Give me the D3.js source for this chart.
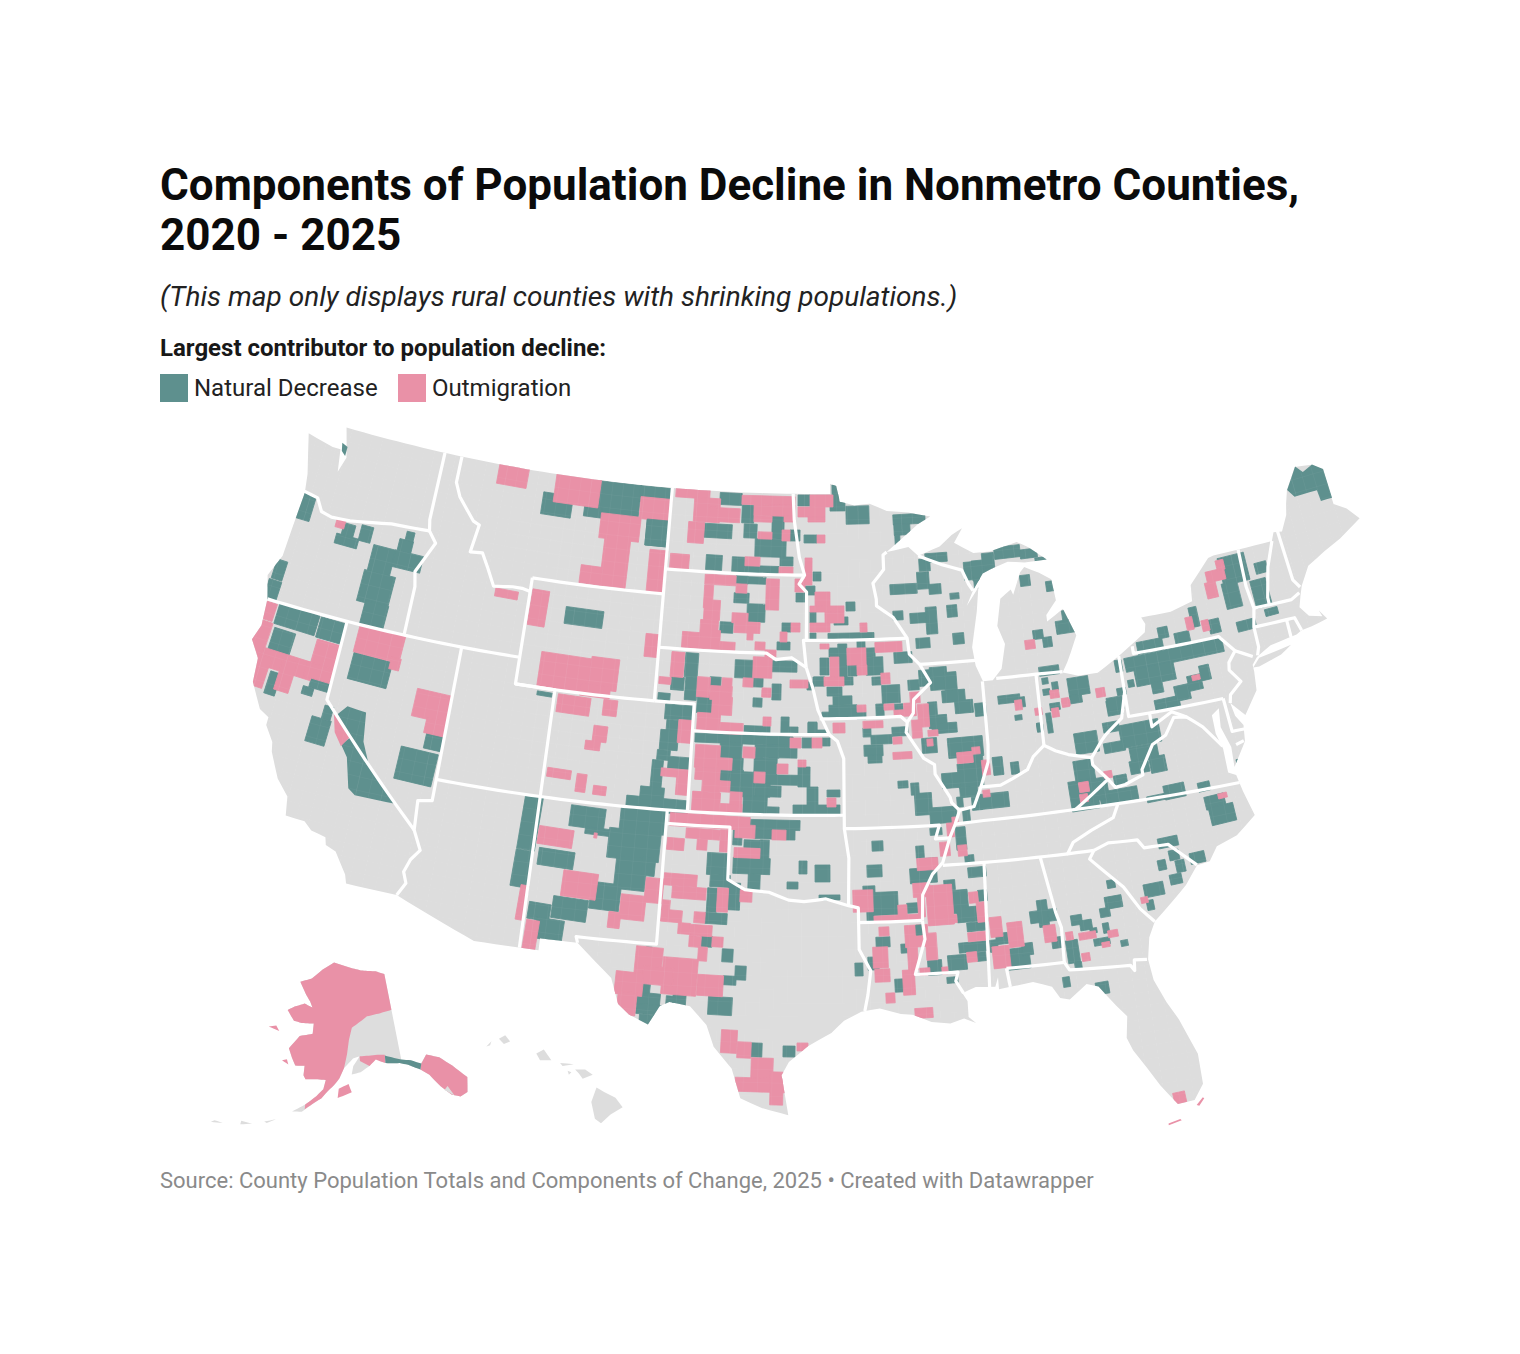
<!DOCTYPE html>
<html>
<head>
<meta charset="utf-8">
<script src="https://d3js.org/d3.v7.min.js"></script>
<style>
  body { margin: 0; background: #fff; }
  text { font-family: Roboto, sans-serif; }
</style>
</head>
<body>
<svg id="chart" width="1520" height="1354"></svg>
<script>
// text
var titleLines = ["Components of Population Decline in Nonmetro Counties,", "2020 - 2025"]
var subtitle = "(This map only displays rural counties with shrinking populations.)"
var legendTitle = "Largest contributor to population decline:"
var legendNames = ["Natural Decrease", "Outmigration"]
var source = "Source: County Population Totals and Components of Change, 2025 • Created with Datawrapper"

// outlines, lon/lat
var lower48 = [[-124.7,48.38],[-123.2,48.15],[-122.75,48.15],[-122.55,47.3],[-122.3,47.9],[-122.5,48.4],[-122.76,49],[-95.15,49],[-95.15,49.38],[-94.8,49.3],[-94.6,48.7],[-93.8,48.55],[-92.95,48.6],[-92,48.3],[-90.8,48.2],[-89.6,48],[-90.3,47.75],[-92.1,46.75],[-90.9,46.9],[-90.4,46.55],[-89.2,46.85],[-88.5,47.25],[-87.9,47.47],[-88.4,46.95],[-87.4,46.5],[-86.5,46.5],[-85,46.75],[-84.4,46.5],[-83.9,46.2],[-83.5,45.95],[-84.7,45.95],[-85.6,46.05],[-86.5,45.85],[-87,45.7],[-87.6,45.1],[-88,44.55],[-87.3,45.2],[-87.5,44.3],[-87.9,43],[-87.8,42.3],[-87.5,41.7],[-87,41.7],[-86.5,42.1],[-86.2,43],[-86.5,43.7],[-86.2,44.7],[-85.6,45],[-85.5,44.8],[-85,45.6],[-84.75,45.78],[-84,45.5],[-83.4,45.2],[-83.3,44.4],[-83.9,43.9],[-83.9,43.65],[-83,44.05],[-82.5,43],[-82.9,42.4],[-83.15,42.05],[-83.45,41.7],[-82.7,41.5],[-81.7,41.5],[-80.5,42],[-79,42.7],[-78.9,43],[-79.05,43.27],[-77.5,43.27],[-76.3,43.5],[-76.2,44.1],[-75,44.95],[-74.7,45],[-71.5,45],[-71.3,45.3],[-70.85,45.25],[-70.4,45.8],[-70.25,46.2],[-70,46.7],[-69.25,47.45],[-68.3,47.35],[-67.8,47.07],[-67.8,45.7],[-67.2,45.4],[-66.7,44.9],[-68,44.4],[-69,44.1],[-70,43.75],[-70.6,43.1],[-70.8,42.75],[-71,42.35],[-70.65,41.95],[-70,41.8],[-70.1,42.05],[-69.8,41.67],[-70.65,41.55],[-71.2,41.5],[-71.5,41.4],[-72.9,41.25],[-73.7,40.95],[-74,40.7],[-74,40.45],[-74.1,39.75],[-74.9,38.95],[-75.5,39.5],[-75.4,39],[-75.1,38.6],[-75.2,38],[-75.95,37.15],[-75.9,37.9],[-76.2,38.7],[-76.1,39.4],[-76.5,39.2],[-76.5,38.5],[-76.3,37.9],[-76.3,37],[-75.95,36.85],[-75.8,36.2],[-75.5,35.25],[-76.5,34.65],[-77.5,34.4],[-77.95,33.9],[-78.55,33.85],[-79.2,33.2],[-79.9,32.7],[-80.85,32.05],[-81.2,31.5],[-81.4,30.7],[-81.3,29.9],[-80.9,29],[-80.5,28.3],[-79.95,26.9],[-79.95,25.75],[-80.4,25.2],[-81.1,25.15],[-81.7,25.95],[-82.15,26.7],[-82.6,27.4],[-82.8,27.9],[-82.65,28.7],[-83.05,29.15],[-83.7,29.95],[-84.2,30.1],[-85,29.6],[-85.4,29.7],[-85.7,30.15],[-86.5,30.4],[-87.5,30.3],[-88,30.25],[-88,30.7],[-88.15,30.35],[-89,30.4],[-89.6,30.2],[-89.4,29.9],[-89.4,29.3],[-89.1,29.05],[-89.6,29.25],[-90.2,29.1],[-91,29.2],[-91.8,29.5],[-92.3,29.55],[-93.2,29.78],[-94,29.68],[-94.75,29.35],[-95.3,28.9],[-96.3,28.4],[-97.1,27.8],[-97.4,27.3],[-97.1,25.8],[-98.2,26.05],[-99.1,26.4],[-99.5,27.5],[-100.3,28.3],[-100.65,29.1],[-101.4,29.77],[-102.3,29.88],[-102.7,29.7],[-103.15,28.98],[-104,29.3],[-104.5,29.65],[-104.9,30.6],[-106,31.4],[-106.53,31.78],[-108.2,31.78],[-108.2,31.33],[-111.07,31.33],[-114.8,32.5],[-117.12,32.53],[-117.25,32.85],[-117.9,33.6],[-118.4,33.75],[-118.5,34.03],[-119.2,34.15],[-119.6,34.42],[-120.5,34.45],[-120.65,35.15],[-121.3,35.7],[-121.9,36.6],[-122,36.95],[-122.5,37.5],[-122.5,37.8],[-123,38],[-123.7,38.9],[-123.8,39.8],[-124.35,40.4],[-124.1,41],[-124.2,42],[-124.55,42.85],[-124.1,43.7],[-124.05,44.7],[-123.95,46.2],[-124.1,46.9],[-124.7,48.38]]
var longIsland = [[-74,40.6],[-73.6,40.9],[-72.6,41],[-71.9,41.08],[-72.5,40.82],[-73.7,40.58]]
var stateLines = [
  [[-124,46.25],[-123.2,46.15],[-122.8,45.7],[-122.2,45.6],[-121.2,45.65],[-120,45.8],[-119,45.93],[-116.92,46]],
  [[-117.03,49],[-117.04,46.42],[-116.92,46],[-116.46,45.6],[-117.2,44.4],[-117.03,43.85],[-117.03,42]],
  [[-124.2,42],[-111.05,42]],
  [[-116.05,49],[-116.05,48],[-115.7,47.5],[-114.7,46.7],[-114.35,46.6],[-114.55,45.55],[-113.9,45.6],[-113.45,45.05],[-113,44.45],[-112,44.55],[-111.5,44.55],[-111.05,44.48]],
  [[-111.05,45],[-104.05,45]],
  [[-111.05,45],[-111.05,41],[-104.05,41]],
  [[-104.05,49],[-104.05,41]],
  [[-104.05,45.94],[-96.56,45.94]],
  [[-104.05,43],[-98.5,43],[-98,42.77],[-97.2,42.85],[-96.45,42.49]],
  [[-104.05,41],[-102.05,41],[-102.05,37]],
  [[-102.05,40],[-95.3,40]],
  [[-111.05,41],[-109.05,41],[-109.05,31.33]],
  [[-114.04,42],[-114.04,36.2],[-114.7,36.1],[-114.6,35],[-114.15,34.3],[-114.5,33.9],[-114.7,33.4],[-114.5,33],[-114.8,32.5]],
  [[-114.04,37],[-94.62,37]],
  [[-120,42],[-120,39],[-114.6,35]],
  [[-103,37],[-103.04,32],[-106.62,32],[-106.53,31.78]],
  [[-103,36.5],[-100,36.5],[-100,34.56],[-99.2,34.2],[-98.1,34.13],[-97.2,33.85],[-96.5,33.8],[-95.5,33.9],[-94.48,33.64],[-94.04,33.55],[-94.04,32],[-93.55,31.2],[-93.7,30.3],[-93.85,29.7]],
  [[-95.3,40],[-94.9,39.75],[-94.6,39.1],[-94.62,36.5],[-90.15,36.5],[-90.37,36],[-89.7,36]],
  [[-94.62,36.5],[-94.43,35.4],[-94.48,33.64]],
  [[-94.04,33],[-91.17,33]],
  [[-91.17,33],[-91.1,32.3],[-91.6,31],[-89.73,31],[-89.85,30.67],[-89.55,30.2]],
  [[-95.77,40.58],[-91.73,40.6],[-91.42,40.38]],
  [[-96.45,42.49],[-96.1,41.7],[-95.85,40.9],[-95.3,40]],
  [[-96.45,42.49],[-96.6,43.5],[-96.45,43.5],[-96.45,45.3],[-96.85,45.6],[-96.56,45.94],[-96.85,46.6],[-97.15,48],[-97.23,49]],
  [[-96.45,43.5],[-91.22,43.5]],
  [[-92.1,46.75],[-92.3,46.65],[-92.3,46.1],[-92.9,45.6],[-92.75,45],[-92.75,44.75],[-91.9,44.3],[-91.22,43.5],[-91.15,42.9],[-90.65,42.5],[-90.15,41.8],[-91.05,41.2],[-91.1,40.7],[-91.42,40.38],[-91.5,40],[-90.7,39],[-90.2,38.75],[-90.2,38.4],[-89.55,37.5],[-89.5,37.3],[-89.15,37],[-89.4,36.5],[-89.7,36],[-90.1,35.1],[-90.6,34.7],[-91.1,33.95],[-91.17,33]],
  [[-90.65,42.5],[-87.8,42.5]],
  [[-90.4,46.55],[-89.1,46.15],[-88.1,45.9],[-87.8,45.35],[-87.6,45.1]],
  [[-87.53,41.7],[-87.53,39.35],[-87.6,38.7],[-88.05,37.8]],
  [[-89.15,37],[-88.45,37.1],[-88.05,37.8],[-87.1,37.8],[-86.5,38],[-85.75,38.27],[-85.4,38.73],[-84.82,39.1],[-84.3,38.85],[-83.7,38.65],[-82.6,38.42],[-82,39],[-81.75,39.2],[-80.87,39.7],[-80.52,40.64]],
  [[-84.82,39.1],[-84.8,41.76]],
  [[-86.82,41.76],[-84.8,41.76],[-83.45,41.73]],
  [[-80.52,42],[-80.52,39.72],[-75.79,39.72]],
  [[-79.76,42.27],[-79.76,42],[-75.35,42],[-74.7,41.36],[-75.13,40.98],[-75.2,40.7],[-74.75,40.2],[-75.4,39.8],[-75.5,39.5]],
  [[-74.7,41.36],[-73.9,41]],
  [[-75.79,39.72],[-75.7,38.46],[-75.05,38.45]],
  [[-75.65,37.95],[-75.25,38.03]],
  [[-82.6,38.42],[-82.6,38.15],[-81.97,37.54],[-83.68,36.6]],
  [[-81.97,37.54],[-81.68,37.2],[-81.2,37.25],[-80.3,37.5],[-80.3,37.7],[-79.6,38.55],[-78.9,38.8],[-78.35,39.4],[-77.72,39.32]],
  [[-79.48,39.72],[-79.48,39.2],[-78.4,39.62],[-77.72,39.32],[-77.05,38.85],[-76.3,38]],
  [[-75.87,36.55],[-81.68,36.59],[-83.68,36.6],[-88.05,36.55],[-89.4,36.5]],
  [[-90.1,35],[-84.32,35]],
  [[-81.68,36.59],[-82,36.1],[-83.1,35.75],[-84,35.4],[-84.32,35],[-83.1,35]],
  [[-83.1,35],[-82.4,35.2],[-81.05,35.15],[-80.8,34.82],[-79.68,34.8],[-78.55,33.86]],
  [[-83.1,35],[-83.35,34.7],[-82,33.5],[-81.4,32.6],[-80.85,32.05]],
  [[-88.2,35],[-88.4,30.3]],
  [[-85.6,35],[-85.18,32.9],[-85,32.3],[-85.05,31]],
  [[-87.6,31],[-85.05,31]],
  [[-87.6,31],[-87.5,30.3]],
  [[-85.05,31],[-84.86,30.7],[-82.2,30.57],[-82.05,30.36],[-82,30.75],[-81.45,30.7]],
  [[-71.5,45],[-72.05,44.1],[-72.45,43],[-72.46,42.73]],
  [[-71.08,45.3],[-70.97,43.4],[-70.7,43.07]],
  [[-73.27,42.74],[-71.3,42.7],[-70.82,42.87]],
  [[-73.35,45],[-73.4,43.6],[-73.27,42.74],[-73.5,42.05],[-73.5,41.3],[-73.65,41]],
  [[-73.5,42.05],[-71.38,42.02],[-71.2,41.5]],
  [[-71.8,42.02],[-71.8,41.35]]
]

var alaskaLand = [
  [[-141,69.65],[-143.5,70.1],[-148,70.4],[-152,70.85],[-156.5,71.35],[-160,70.5],[-163,69.4],[-166.2,68.85],[-164,67.6],[-162.6,66.9],[-161.8,66.3],[-164,66.6],[-166.5,66.1],[-168.1,65.6],[-166,64.6],[-164,64.5],[-161,64.6],[-161,63.5],[-164,63.1],[-165.5,62],[-166,61.6],[-165,60.7],[-164,59.9],[-162,60],[-162,59],[-161.5,58.6],[-159,58.7],[-157.3,58.7],[-157.7,57.7],[-159,56.9],[-161,55.9],[-163.3,55],[-161.5,55.1],[-159.5,56.1],[-158,56.7],[-156.8,57.5],[-155.5,58.2],[-154.5,58.9],[-153.5,60],[-151.5,61],[-150,61.2],[-151.5,60.2],[-151.9,59.3],[-150,59.5],[-148,60.1],[-146.5,60.8],[-144.5,60.2],[-141.5,59.95],[-139.8,59.6],[-137.5,58.8],[-136,58],[-134.5,56.5],[-133,55.3],[-131.5,54.8],[-130,55],[-129,56.5],[-131,58.2],[-133,59.5],[-135.5,60.2],[-137.5,59.2],[-139,60],[-141,60.3]],
  [[-168,53.4],[-166,53.9],[-167.5,53.3]],
  [[-172,52.5],[-170,52.9],[-172,52.9]],
  [[-177,51.8],[-175,52.1],[-176.5,52.1]]
]
var alaskaOutmigration = [
  [[-141,69.65],[-143.5,70.1],[-148,70.4],[-152,70.85],[-156.5,71.35],[-160,70.5],[-163,69.4],[-166.2,68.85],[-164,67.6],[-162.6,66.9],[-161.8,66.3],[-164,66.6],[-166.5,66.1],[-168.1,65.6],[-166,64.6],[-164,64.5],[-161,64.6],[-161,63.5],[-164,63.1],[-165.5,62],[-166,61.6],[-165,60.7],[-164,59.9],[-162,60],[-162,59],[-161.5,58.6],[-159,58.7],[-157.3,58.7],[-157.7,57.7],[-159,56.9],[-161,55.9],[-161,55.4],[-159.5,56.1],[-158,56.7],[-156.8,57.5],[-155.5,58.2],[-154.5,58.9],[-153.5,60],[-152.8,61.5],[-152.3,63],[-151.5,64.3],[-147.5,65.4],[-141,65.7]],
  [[-171.7,63.4],[-169,63.2],[-170,63.7]],
  [[-167,60.2],[-165.5,59.9],[-166,60.4]],
  [[-154.8,56.8],[-152,57.4],[-152.6,58.3],[-154.6,57.8]],
  [[-150,61.2],[-146,61.2],[-144.4,61.1],[-144.5,60.2],[-146.5,60.7],[-148,60.1],[-150,60.7]],
  [[-137.5,58.8],[-136,58],[-134.5,56.5],[-133,55.3],[-131.5,54.8],[-130,55],[-129,56.5],[-131,58.2],[-133,59.5],[-135.5,60.2],[-137,59.4]]
]
var alaskaNatural = [
  [[-144.5,60.2],[-141.5,59.95],[-139.8,59.6],[-137.5,58.8],[-137,59.4],[-139,60],[-141,60.3],[-144.4,61]]
]
var alaskaPanhandleIslands = [[[-134,56],[-132.5,55.1],[-133.2,56.3]]]
var hawaiiLand = [
  [[-155.85,20.27],[-155.55,20.1],[-155.1,19.88],[-154.82,19.52],[-155.3,19.25],[-155.68,18.93],[-155.92,19.1],[-156.06,19.73]],
  [[-156.7,20.95],[-156.3,20.95],[-156,20.75],[-156.4,20.6],[-156.55,20.8]],
  [[-157.3,21.2],[-156.75,21.15],[-157.2,21.08]],
  [[-157,20.9],[-156.85,20.85],[-156.95,20.75]],
  [[-158.25,21.55],[-157.95,21.7],[-157.65,21.3],[-158.1,21.3]],
  [[-159.75,22.1],[-159.5,22.23],[-159.3,22],[-159.55,21.9]],
  [[-160.25,21.8],[-160.05,22],[-160.1,21.85]]
]
// counties with shapes that need real borders
var naturalShapes = [
  [[-118.43,37.89],[-115.65,35.81],[-117.63,35.8],[-118,36],[-118.4,37.1],[-118.8,37.5]],
  [[-69.99,46.7],[-69.22,47.46],[-68.9,47.18],[-68.3,47.36],[-67.79,47.07],[-67.78,45.94],[-68.4,45.95],[-68.44,46.38],[-69.7,46.38]],
  [[-118.95,38.95],[-118,38.88],[-117.8,37.8],[-117.3,37],[-119.4,38.5]],
  [[-122.75,48.4],[-122.4,48.3],[-122.4,47.95],[-122.65,48.1]]
]
var outmigrationShapes = [
  [[-119.5,38.55],[-118.45,37.9],[-118.8,37.45],[-119.25,37.9]],
  [[-80.25,24.95],[-80,25.2],[-80.05,25.25],[-80.35,25]],
  [[-81.6,24.4],[-81.05,24.52],[-81.1,24.57],[-81.6,24.47]]
]

// county cells, [col from, col to, row from, row to]
var naturalWest = [[29.8,31.3,49.4,52],[27.4,28.5,56,58],[26.6,27.9,58,60],[34.2,35.4,52.4,54],[33.5,35.8,53.6,54.6],[36,37.2,52.6,54.2],[37,39.3,54.7,57.5],[40.6,41.4,53.2,54.2],[39.8,41.2,54,55.5],[39.3,42.2,55.3,57],[36,39.2,57.3,60.5],[36.2,38.6,60.3,62.8],[27.6,31.8,60.9,63],[31.8,34.4,62,64.1],[27,29.2,63,65.8],[26.7,27.8,67.2,69.5],[31,33,67.8,69],[30.2,31.3,68.7,69.5],[35,39,65.7,68.4],[30.8,32.8,71.8,74.4],[32.3,33.2,70.6,72],[42.5,44.2,73.3,75],[39.7,43.5,75,78.3],[52.1,53.9,79.6,85],[51.3,53,85,88.7],[54.2,57.2,49.4,51.6],[59.8,64,48.3,51.8],[58.4,60.2,50.6,51.7],[64,67.2,48.7,50.3],[64.6,66.8,52,54.6],[56.5,60.3,60.9,62.6],[53.7,55.2,69.2,69.6]]
var outmigrationWest = [[33.6,34.5,51.9,52.8],[26.2,27.5,60.2,62],[25.2,26.8,62,65.5],[31.3,33.8,64.2,67],[26,31.4,65.5,67.3],[25.3,26.7,65.5,68.7],[27.8,29.3,66,69.2],[30.5,33.2,66.5,68],[35.6,40.3,63,65.8],[39,40,65.8,67],[41.4,45,69.2,72],[42.5,44.6,72,73.5],[51.8,52.6,88.5,92],[49.8,52.8,46.6,48.6],[49.5,51.8,59,59.8],[53,54.7,59,62.6],[55.5,60,47.5,50.5],[64,67.1,49.8,52],[60,64,51.5,54],[60.2,62.8,53.8,58.7],[58,60.2,56.6,58.4],[64.8,66.6,55,59.2],[64.5,65.9,63.4,65.7],[53.9,59,65.5,69],[59,61.8,65.8,69],[58,61,68.5,69.7]]
var naturalDakotas = [[72,74.2,49.3,50.5],[74.2,75.4,50.5,52.3],[70.4,73.2,52.4,53.8],[74.4,75.7,52.4,53.8],[77.2,78.4,51.6,53.9],[79,80,53,54.1],[75.5,78.6,53.9,55.7],[70.6,72.2,55.5,57],[73.2,74.5,55.7,57.3],[74.5,77.9,56.6,57.4],[78,79.3,55.7,56.6],[79.8,81,49.5,50.6],[73.6,74.8,57.6,58.4],[74.8,76.6,57.7,58.4],[73.4,74.9,59.3,60.3],[74.7,76.5,60.4,62.2],[72,73.3,62.2,63.3],[78.2,79.1,62.3,63.2],[77.7,79,64.2,65],[79.6,80.7,59.3,60.2],[81.3,82.1,57.2,58.1],[80.5,81.5,58.6,59.5],[73.5,75.3,66,67.8],[77.2,79.7,66.1,67.2],[75.3,76.3,67.8,68.7],[77.2,78.1,68.4,70],[80.7,81.4,68.2,69],[81.4,82.5,67.7,68.6]]
var outmigrationDakotas = [[67.6,71,48.9,49.8],[69.4,72,49.8,52.2],[71,74,50.8,52.2],[74.2,79.5,49.6,50.5],[75.4,79.5,50.5,51.6],[75.4,77.2,51.6,52.2],[78.4,79.5,51.6,52.2],[68.8,70.4,52.2,54.3],[75.8,77.2,53.2,53.9],[78.2,79,53,54.1],[67,68.9,55.4,57],[74.5,76,55.7,56.6],[77.9,79.3,56.7,57.4],[81,83.3,49.5,50.7],[79.8,82.5,50.7,51.7],[80.8,82.5,51.7,52.2],[70.5,73.6,57.5,58.5],[70.4,71.3,58.5,60.8],[70.4,72,60,62],[70,71.8,62,64],[68.2,70,63.2,64.8],[70,72,63,64.9],[72,73.5,64.2,65],[73.6,74.7,58.4,59.3],[76.6,77.9,57.9,61],[73.2,74.8,61.3,62.3],[73.4,76,62.2,63.3],[74.7,75.3,63.3,64],[75.5,76.5,64.2,65],[76.5,77.6,65,65.7],[79.1,80,62.3,63.2],[78,78.7,63.2,64.2],[79.5,80.5,57.9,59.2],[80.5,81.2,55.8,58.5],[75.3,77.2,65.7,67.8],[74.3,75.3,67.8,68.7],[76.2,77.1,68.8,69.7],[79,80.8,68,68.8],[81.7,82.5,53.5,54.3]]
var naturalPlains = [[68.5,69.8,65.3,67.7],[67.1,68.4,67.7,69],[68.5,69.7,67.7,70],[65.8,67,69.3,70],[71,72.1,67.7,68.6],[69.7,71.2,69.5,71.3],[75.3,76.2,69.8,70.7],[74.4,77,72.6,73.4],[78.1,78.9,71.7,73.3],[78.9,79.8,72.7,73.4],[80.8,81.7,72.2,73.3],[81.7,82.7,73,73.5],[66.5,69.3,70.5,72],[66.6,67.8,72,74.2],[66,67.8,73,75],[65.7,67,75,76],[66.8,69,75.7,76.9],[65.1,66.2,76,79.3],[62.6,68.8,79.8,81.2],[64,66.4,78.7,80],[69.5,79.3,73.5,74.4],[80.2,81.2,73.8,74.8],[82.2,83,73.8,74.6],[72,74.2,74.2,75.8],[75.5,77.9,74.5,75.8],[77.9,79.7,74.5,75.8],[70.3,71.7,75.7,76.8],[73.2,74.3,75.8,77],[75.4,77.7,75.8,77.5],[79.8,81,76.7,78.7],[73,74.3,77,79.2],[72,73,77,78.1],[74.2,75.5,77.2,79.7],[76.5,79.8,77.5,78.5],[75.5,77,78.3,79.7],[76.7,78.1,78.6,79.7],[74.3,76.7,79.6,81.4],[76.7,77.9,80.7,81.5],[80.7,81.8,78.7,80.5],[79.3,84,80.5,81.6],[82.7,84,79,79.7],[57,60.5,80.7,82.8],[58.5,61,82.8,83.5],[53.8,57.4,85,86.7],[62,66.5,81,83.3],[60.8,66,83,86],[61.5,64.6,85.7,89],[64.2,65.5,85.7,87.6],[59,62,88.3,91],[55.2,58.7,89.8,92],[52.8,55,90.3,92],[53.5,56.3,91.9,94],[75,80,82,83],[75.4,78.7,83,83.9],[78.6,79.5,83,84],[73.3,74.2,83,84.5],[74.4,76,84,84.8],[76,76.9,84,86.2],[73.3,77,85.8,87.4],[74.8,76,87.4,89.1],[79.9,80.7,86.1,87.4],[81.5,83,86.5,88.2],[78.7,79.8,88.2,88.9],[81.9,84,89.5,90],[70.7,72.9,85.3,87.5],[71,73,87.5,88.7],[70.7,71.7,88.8,91.2],[72.8,74,88.3,91],[70.5,72.7,91.3,92.4],[70.1,71.2,93.6,94.7],[72.2,73.3,94.9,96.2],[73.5,74.6,96.6,98],[72.3,73.6,97.6,98.5],[64,65,98.3,99.3],[63.6,66,99.3,100.5],[63.6,67,100.5,101.5],[63.9,65.8,101.5,102.6],[67.3,68.6,98.6,100.7],[66.6,67.4,99.6,100.5],[64.6,65.2,94.7,95.5],[70.8,73.2,99.7,101.5],[75.1,76.2,104.3,105.7],[78.3,79.5,104.6,105.7]]
var outmigrationPlains = [[67.1,68.4,65.2,67.7],[65.9,67.1,67.7,68.4],[69.7,71,67.7,69.7],[71,73.2,68.6,70],[72.2,73.2,67.8,68.7],[71.2,73.2,69.7,71.5],[69.7,72,71.3,73.2],[72,74.3,72.3,73.4],[76.2,77,69,69.7],[76.3,77.1,71.7,72.6],[67.8,69.3,72,74.3],[66.1,69,76.9,77.7],[67.6,68.8,77.7,79.5],[79,80.1,73.8,74.8],[81.2,82.2,73.8,74.8],[69.5,72,74.5,76.8],[74.3,75.5,74.7,75.8],[71.8,73.2,75.8,77],[77.7,78.8,76.4,77.4],[79.8,80.6,76,76.7],[69.5,72,76.8,78],[70.2,72,78,79.2],[72,73,78.1,79.2],[75.4,76.5,77.2,78.3],[69.2,72,79.2,81.2],[72,74.2,80.4,81.4],[73,74.2,79.2,80.5],[82.7,83.6,79.8,80.7],[55.7,59,69.6,71.4],[60.3,61.7,70,71.6],[59.3,60.7,72.6,74.2],[58.5,60,74.1,75],[54.7,57.1,76.9,77.8],[57.6,58.6,77.4,79.2],[59.3,60.6,78.6,79.5],[53.8,57.3,82.8,84.6],[59.4,59.7,83.3,83.8],[64.5,66.3,87.8,90.3],[62,64.5,89.5,92],[60.8,62,91.2,92.8],[56.2,59.7,87.2,89.8],[52.4,53.7,92,95.2],[67,75,81.5,82.8],[73.5,75.5,82.5,83.8],[77.2,78.6,83,84],[73.4,76,84.8,85.8],[68.6,72,82.9,83.9],[69.7,70.7,83.9,85],[66.7,68.4,83.8,85],[72,72.9,83,85.2],[66.4,69.7,87.4,88.6],[67.2,70.6,88.7,89.9],[71.7,72.8,88.8,91.2],[74,75.2,89,90.2],[66.2,67,90,91],[66.1,68.2,91,92.2],[69.4,70.5,91.2,92.3],[67.8,69,92.3,93.4],[69,71.2,92.5,93.6],[68.9,70.1,93.6,94.7],[71.2,72.3,93.7,94.7],[69.8,70.7,94.7,96.1],[63.5,66.2,94.7,97.8],[66.2,69.7,95.8,99.5],[69.7,72.3,97.5,99.6],[61.5,64.3,97.2,99.5],[61.7,63.6,99.2,101.5],[64.3,67.3,96.7,98.5],[72.1,73.7,103,105.3],[73.7,75.1,104.2,105.8],[75.1,77.3,105.8,108],[73.5,78.5,107.8,109.2],[77,78.3,107.2,110.5],[79.7,80.8,104.3,105.1]]
var naturalMidwest = [[83.2,83.9,48.5,50.2],[83,84.5,50.2,51.1],[84.6,86.9,50.6,52.4],[89.3,92.5,51.4,52.4],[89.4,91,52.4,53.5],[89.5,90,53.5,54.5],[80.4,81.7,53.5,54.3],[81,81.6,61.2,62.3],[83.4,84.8,61.7,62.5],[84.6,85.5,60.2,61.1],[81,81.6,63.3,64],[82.8,87.4,63.3,64],[89,91.7,58.4,59.4],[91.7,92.9,57.2,58.9],[92.9,94.1,58.4,59.4],[91.9,93,55.9,57.1],[92.5,94.7,55.3,56.2],[95,95.9,59.3,59.9],[94.7,95.7,60.5,61.7],[91,92.7,61.3,62.3],[92.6,93.7,60.7,63.4],[89.3,90.3,61.1,62],[91.6,93,63.8,64.8],[95.3,96.4,63.3,64.4],[96.4,97.4,56.2,58],[97.2,99.3,56,58],[98.2,99.4,55.3,56.8],[99.4,102,54.6,55.8],[102,103.7,54.9,55.8],[103.5,105,55.7,56.2],[97.4,98,57.8,58.8],[102,103,57.5,58.6],[104.6,105.6,58.1,59.1],[105.6,107.7,62,63.3],[106.2,107.3,61,62],[103.3,104.3,63,63.9],[104.3,105.2,63.7,64.7],[103.9,105.9,66.6,67.5],[82.9,83.8,64.8,65.7],[83.8,84.7,64.4,67.7],[82,82.9,65.8,67.5],[84.8,85.7,66.5,67.6],[85.7,86.5,64,64.8],[86.6,87.5,64.8,65.7],[86.6,88.3,65.7,67.5],[89.4,91.2,65.2,66.3],[87.2,88.1,67.7,68.5],[84.4,85.3,67.7,68.5],[81.3,82.4,67.7,68.6],[82.7,84.2,68.7,69.6],[88.2,90,68.5,70.3],[83.3,85.2,69.6,70.5],[82.9,85.7,70.5,71.8],[82.2,84.8,71.2,71.9],[85.7,86.6,71.2,71.9],[87.6,88.4,70.4,71.7],[89.4,90.3,70.4,71],[90.8,91.9,68,69],[91.9,93.2,67,68.6],[93,94.7,66.7,69],[94.5,95.7,67.2,70],[94.2,96.5,69,70.2],[95.5,97.3,70,71.3],[97.5,98.6,70.3,71.6],[92.8,93.7,70.2,71.5],[92.9,94.7,71.5,72.8],[80.8,81.7,72.3,73.3],[86.3,87.1,72.8,73.7],[87.1,89.2,73.5,74.4],[89.2,90.8,72.7,73.6],[86.4,88.3,74.5,75.6],[86.8,88.2,75.5,76.3],[92.2,93.7,73.8,75.3],[93.2,95.7,72.3,73.3],[94.8,98.3,73.7,75.7],[97.3,98.3,75.4,76.9],[95.8,98.3,76.3,78.7],[94.2,96,77.3,78.8],[96,97.8,78.7,79.7],[95.7,96.3,79.7,80.7],[97.2,98.2,79.7,81],[99.3,100.3,75.7,77.5],[101.1,101.9,76.2,77.4],[103.7,104.3,72.3,73.1],[98,100.9,79.3,80.8],[96.3,97,80.8,82.3],[91.5,93.2,79.3,81.5],[93,95.7,80.7,82.3],[89.8,90.8,78.1,78.8],[91.1,91.9,78.3,79.5],[93,94.2,82.8,83.5],[95.6,96.6,82.7,85],[96.5,97.4,85.5,86.4]]
var outmigrationMidwest = [[81.5,83,59.2,60.7],[81,84.4,60.6,61.2],[82.5,84.4,61.2,62.3],[81,83,62.3,63.2],[86,86.7,62.3,63.2],[102.5,103.5,64,64.9],[82,82.9,64.4,64.9],[83,83.9,65.7,67.7],[84.7,86.6,64.8,66.5],[85.7,86.7,66.5,67.5],[87.5,90.2,64.2,65.2],[88.1,89,67.3,68.4],[82.4,84.4,67.7,68.6],[85.7,86.6,70.5,71.2],[88.4,89.4,70.4,71],[89.4,90.4,71,71.6],[91,92,69.2,70.3],[90.4,91.6,70.3,71.6],[91.8,92.9,70.4,72.7],[83.3,84.5,72.3,73.3],[86.3,88.3,72.1,72.8],[89.3,90.2,73.7,74.4],[89.3,91.2,75.2,75.9],[91.2,92.2,72,73.8],[92.8,93.8,73,73.6],[92.7,93.3,73.9,74.6],[95.7,97.3,75.2,76.3],[97.2,98,74.7,75.4],[98.2,99,76,77.5],[98.3,99,79,79.7],[95.2,95.8,81.7,82.3],[94.7,95.4,82.3,83.7],[94,95,84.2,85.6],[95.8,96.7,84.5,85.6]]
var naturalSouth = [[87.2,88.3,84.1,85.1],[86.7,88.2,86.5,87.7],[91.6,92.4,84.6,85.8],[92.5,93.7,85.8,86.4],[91,93.7,86.8,88.3],[86.3,87.5,88.6,89.6],[87.3,89.8,89.2,91.5],[86.7,87.4,91.2,92.2],[90.7,91.8,90.3,91.3],[94.4,95.5,88,89],[95,96.8,89,91.3],[97.8,98.7,89,90.1],[95.7,97.7,90.7,92.2],[96.7,98.6,92.2,93.1],[95.9,98.6,94.2,95.2],[94.8,96.7,95.5,97],[97.7,98.6,95.2,96.1],[96.8,98.6,86.7,87.7],[92.8,94.2,96,97.5],[94.7,95.8,97.7,98.3],[87.6,89,93.7,94.7],[86.8,87.9,95.7,97],[85.5,86.3,96.3,97.6],[90.1,90.9,94.4,95.3],[89.5,90.5,97.9,99.2],[103,105.7,91,92.2],[103.8,104.8,90,92.7],[105.2,106.3,93.7,94.8],[99.6,100.8,93.3,94.4],[99,99.8,94,95.2],[100.8,103,94.8,96.9],[102.2,103.3,94.3,95.5],[110.7,111.5,88,88.8],[110.5,112.2,89.6,90.8],[110,111,90.8,91.7],[107.1,108.2,91.5,92.5],[108,109.2,92,93],[109,109.7,92.8,93.3],[110.3,110.9,92.3,93.3],[106.7,107.9,94,96.3],[107.5,108.2,96.2,97],[109.4,111,93.8,94.5],[112.1,112.8,94,94.6],[106.3,107,97.7,98.7],[109.6,110.9,98.2,99.4],[115.8,117.8,83.7,84.7],[116.9,117.9,85,86],[117.6,118.5,86,87.2],[119,120.5,85.2,86.3],[115.8,116.6,86,87],[117,118.2,87.4,88.4],[114.4,116.4,88.3,89.6],[114.7,115.4,90,91]]
var outmigrationSouth = [[91.7,93.8,85.8,87],[91.3,93,88.3,89.7],[85.3,87.3,89,91.2],[87.4,92.3,91.5,92.2],[89.8,90.7,90.5,91.7],[91.8,92.5,89.7,91.7],[92.7,95.3,88.5,92.5],[94.5,95.7,91.5,92.3],[96.9,97.8,89.2,90.3],[97.7,98.7,90.2,92.2],[96.8,98.6,93.2,94.1],[96.7,97.7,95.2,96.2],[92,93,96.8,97.5],[94.2,94.8,96.7,97.4],[92.6,93.7,93.3,96],[87.9,88.9,92.7,93.6],[87.3,88.8,94.7,96.8],[87.5,89,96.9,98.2],[90.5,92.8,92.5,94.7],[90.8,91.8,94.7,97],[90.3,91.5,97,99.5],[88.6,89.5,99.3,100.3],[91.5,93.3,100.8,101.8],[104.4,105.6,92.5,94.2],[99,100.2,91.7,93.7],[100.8,102.3,92.2,94.7],[99.3,101,94.6,96.8],[110.8,111.8,93,93.7],[107.9,109.6,93.2,93.9],[106.6,107.3,93.2,94],[108.2,109,95.3,96.1],[110.2,111,94.2,94.7],[114.1,114.8,89.7,90.3],[117.4,118.6,109.2,110.6]]
var naturalEast = [[120.5,122.5,79.5,80.8],[121,123.5,80.5,82.3],[119.8,121,78.2,79.1],[114.7,116.6,79.5,80.1],[116.4,118.5,78.4,79.8],[123.7,124.2,75.9,76.8],[110,113.8,78.9,80.2],[112,116,72.2,74.5],[113,115.8,74.5,76],[113,114.9,76,77.3],[110.4,112.5,74.2,75.2],[111.4,112.7,77.5,78.5],[115,116.6,75.6,77.2],[107.5,109.5,76,79],[107,109.8,78,81],[109,110.8,77.8,80],[107.5,109.8,73.2,75.3],[110.3,111.9,72.2,73.2],[110.7,112.2,70,71.5],[104.7,105.2,71.3,73.3],[103.7,104.3,72.3,73.2],[101.5,102.2,71.5,72],[99.8,102,69.5,70.3],[101.8,102.5,69.7,70.7],[104.2,104.8,67.8,68.4],[104.3,105,68.9,69.5],[105.2,105.8,68.2,69],[106.8,108.9,67.7,69.5],[107,108.2,69.5,70.3],[105,106,70.3,71],[112.4,122.4,64.8,66.2],[113.5,117.5,66.5,68.3],[115.2,116.3,68.2,69.3],[111.5,112.2,66,67.2],[112.8,113.4,68,68.7],[111.7,112.6,68.8,69.5],[110.7,112.3,69.7,71],[115.5,118,69.8,71],[117.5,119,68.5,70],[118.8,120.2,67.5,69],[120,121,66.5,68],[113.7,116.3,64,65.2],[115.8,116.8,62.7,63.8],[117.5,119,63.2,64.5],[119,119.8,60.7,62.7],[120.9,122,61.9,63.3],[123.7,125.6,62,63],[122,124.7,55.5,58.3],[122.4,124,58.2,60.8],[125.5,126.7,56.2,57.3],[125.3,126.9,57.9,60.7],[126.5,127.8,60.8,61.5]]
var outmigrationEast = [[121.8,122.7,79.3,79.8],[107.9,108.9,78.2,79.2],[108,108.8,79.4,80.2],[110.4,111.2,77.1,77.8],[105.2,105.9,70.8,71.7],[106.2,107,70,70.6],[101.5,102.2,70,71],[103.5,104.2,70.8,71.5],[105,105.9,69,69.8],[106.2,106.9,69.8,70.7],[109.6,110.5,68.8,69.7],[119.2,120,67.5,68],[118.6,119.3,61.7,63],[120.2,120.9,62,63.1],[120.6,122.5,57,58.1],[121.6,122.4,56,57],[120.6,121.7,58.2,59.8]]
var naturalOnTop = [[91.6,92.2,92.5,93.5],[64.6,66.8,52,54.6]]

var legendColors = ["#5e908e", "#e991a7"]
var landColor = "#dddddd"

var width = 1520, height = 1354
var svg = d3.select("#chart")

// titles
svg.selectAll(".title").data(titleLines).join("text").attr("class", "title")
  .attr("x", 160).attr("y", (d, i) => 200 + i * 50)
  .attr("font-size", 44).attr("font-weight", 700).attr("fill", "#0b0b0b").text(d => d)
svg.append("text").attr("x", 160).attr("y", 306).attr("font-size", 28)
  .attr("font-style", "italic").attr("font-weight", 400).attr("fill", "#222").text(subtitle)
svg.append("text").attr("x", 160).attr("y", 356).attr("font-size", 24)
  .attr("font-weight", 700).attr("fill", "#181818").text(legendTitle)

var legendX = d3.scaleOrdinal().domain(legendNames).range([160, 398])
var legend = svg.selectAll(".legend").data(legendNames).join("g").attr("class", "legend")
  .attr("transform", d => `translate(${legendX(d)},374)`)
legend.append("rect").attr("width", 28).attr("height", 28).attr("fill", (d, i) => legendColors[i])
legend.append("text").attr("x", 34).attr("y", 22).attr("font-size", 24).attr("fill", "#222").text(d => d)

svg.append("text").attr("x", 160).attr("y", 1188).attr("font-size", 22).attr("fill", "#8a8a8a").text(source)

// projections
var mainland = d3.geoAlbers().rotate([96, 0]).center([0, 38.5]).parallels([29.5, 45.5]).scale(1530).translate([815, 775]).precision(0.3)
var alaska = d3.geoConicEqualArea().rotate([154, 0]).center([-2, 58.5]).parallels([55, 65]).scale(535).translate([332, 1082]).precision(0.3)
var hawaii = d3.geoConicEqualArea().rotate([157, 0]).center([-3, 19.9]).parallels([8, 18]).scale(1530).translate([492, 1097]).precision(0.3)

var mainPath = d3.geoPath(mainland), akPath = d3.geoPath(alaska), hiPath = d3.geoPath(hawaii)

// long edges have to follow the parallels, not great circles
function dense(line) {
  var out = []
  line.forEach((p, i) => {
    if (i > 0) {
      var q = line[i - 1], n = Math.ceil(Math.abs(p[0] - q[0]) / 0.5)
      for (var k = 1; k < n; k++) out.push([q[0] + (p[0] - q[0]) * k / n, q[1] + (p[1] - q[1]) * k / n])
    }
    out.push(p)
  })
  return out
}
function poly(ring) {
  var r = dense(ring)
  if (r[0][0] != r[r.length - 1][0] || r[0][1] != r[r.length - 1][1]) r.push(r[0])
  var g = {type: "Polygon", coordinates: [r]}
  if (d3.geoArea(g) > 2 * Math.PI) g.coordinates[0] = r.slice().reverse()
  return g
}

svg.append("clipPath").attr("id", "land").append("path")
  .attr("d", mainPath(poly(lower48)) + mainPath(poly(longIsland)))

var map = svg.append("g")
map.append("path").attr("d", mainPath(poly(lower48)) + mainPath(poly(longIsland))).attr("fill", landColor)

var x = d3.scaleLinear().domain([0, 152]).range([0, width])
var y = d3.scaleLinear().domain([0, 135.4]).range([0, height])

// parallels lean with the distance from the central meridian
function tilt(d) {
  var cx = x((d[0] + d[1]) / 2), cy = y((d[2] + d[3]) / 2)
  var a = Math.atan((815 - cx) / 1670) * 180 / Math.PI
  return `rotate(${a},${cx},${cy})`
}
function drawCells(cells, color) {
  var g = map.append("g").attr("clip-path", "url(#land)")
  g.selectAll("rect").data(cells).join("rect")
    .attr("x", d => x(d[0])).attr("y", d => y(d[2]))
    .attr("width", d => x(d[1]) - x(d[0])).attr("height", d => y(d[3]) - y(d[2]))
    .attr("transform", tilt)
    .attr("fill", color).attr("stroke", color).attr("stroke-width", 0.8)
}
drawCells([...naturalWest, ...naturalDakotas, ...naturalPlains, ...naturalMidwest, ...naturalSouth, ...naturalEast], legendColors[0])
drawCells([...outmigrationWest, ...outmigrationDakotas, ...outmigrationPlains, ...outmigrationMidwest, ...outmigrationSouth, ...outmigrationEast], legendColors[1])
drawCells(naturalOnTop, legendColors[0])

map.append("g").selectAll("path").data(naturalShapes).join("path").attr("d", d => mainPath(poly(d))).attr("fill", legendColors[0])
map.append("g").selectAll("path").data(outmigrationShapes).join("path").attr("d", d => mainPath(poly(d))).attr("fill", legendColors[1])

// county grid over the land, the real county lines are only faintly visible
map.append("path").attr("clip-path", "url(#land)")
  .attr("d", mainPath(d3.geoGraticule().step([0.6, 0.5]).extent([[-125, 25], [-66, 50]])()))
  .attr("fill", "none").attr("stroke", "#fff").attr("stroke-opacity", 0.06).attr("stroke-width", 0.7)

// state borders
map.append("g").selectAll("path").data(stateLines).join("path")
  .attr("d", d => mainPath({type: "LineString", coordinates: dense(d)}))
  .attr("fill", "none").attr("stroke", "#fff").attr("stroke-width", 3.2).attr("stroke-linejoin", "round")

// alaska and hawaii
map.append("g").selectAll("path").data(alaskaLand).join("path").attr("d", d => akPath(poly(d))).attr("fill", landColor)
map.append("g").selectAll("path").data(alaskaOutmigration).join("path").attr("d", d => akPath(poly(d))).attr("fill", legendColors[1])
map.append("g").selectAll("path").data(alaskaNatural).join("path").attr("d", d => akPath(poly(d))).attr("fill", legendColors[0])
map.append("g").selectAll("path").data(alaskaPanhandleIslands).join("path").attr("d", d => akPath(poly(d))).attr("fill", landColor)
map.append("g").selectAll("path").data(hawaiiLand).join("path").attr("d", d => hiPath(poly(d))).attr("fill", landColor)
</script>
</body>
</html>
